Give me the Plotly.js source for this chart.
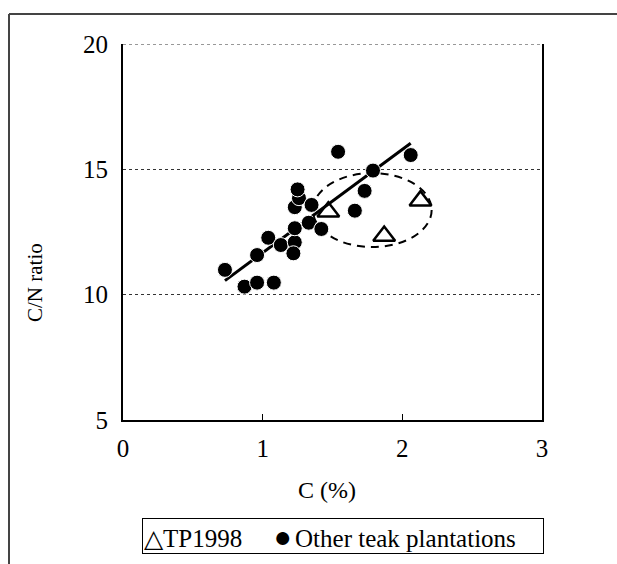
<!DOCTYPE html>
<html>
<head>
<meta charset="utf-8">
<script src="https://cdn.plot.ly/plotly-3.0.1.min.js"></script>
<style>html,body{margin:0;padding:0;background:#fff;}#chart{width:617px;height:564px;}</style>
</head>
<body>
<div id="chart"></div>
<script>
// ---- data ----
const tpC  = [1.47, 1.87, 2.13];
const tpCN = [13.31, 12.34, 13.75];

const otherC  = [0.73, 0.87, 0.96, 1.08, 0.96, 1.04, 1.13, 1.23, 1.22, 1.23, 1.33, 1.42,
                 1.23, 1.26, 1.25, 1.35, 1.54, 1.73, 1.66, 1.79, 2.06];
const otherCN = [10.99, 10.32, 10.48, 10.48, 11.58, 12.27, 11.98, 12.09, 11.65, 12.65, 12.87, 12.62,
                 13.49, 13.85, 14.20, 13.58, 15.70, 14.14, 13.35, 14.95, 15.57];

const fitC  = [0.73, 2.06];
const fitCN = [10.56, 16.04];

const ellipseC  = [1.36, 2.21];
const ellipseCN = [11.90, 14.85];

const xTicks = [0, 1, 2, 3];
const yTicks = [5, 10, 15, 20];

const seriesNames = ['TP1998', 'Other teak plantations'];
const seriesGlyphs = ['\u25B3', '\u25CF'];
const xTitle = 'C (%)';
const yTitle = 'C/N ratio';

// ---- layout geometry ----
const W = 617, H = 564;
const M = {l: 123, r: 75, t: 44, b: 144, autoexpand: false};
const pw = W - M.l - M.r, ph = H - M.t - M.b;
const px = x => (x - M.l) / pw;        // pixel -> paper
const py = y => (H - M.b - y) / ph;

const FONT = 'Liberation Serif';
const SP = '&nbsp;';

const traces = [
  {
    x: fitC, y: fitCN, type: 'scatter', mode: 'lines',
    line: {color: '#000', width: 3}, showlegend: false, hoverinfo: 'skip'
  },
  {
    x: otherC, y: otherCN, type: 'scatter', mode: 'markers', name: seriesNames[1], showlegend: false,
    marker: {symbol: 'circle', size: 15, color: '#000', line: {color: '#fff', width: 1}}
  },
  {
    x: tpC, y: tpCN, type: 'scatter', mode: 'markers', name: seriesNames[0], showlegend: false,
    marker: {symbol: 'triangle-up-open', size: 19, color: '#000', line: {color: '#000', width: 2.5}}
  }
];

const legendText = seriesGlyphs[0] + seriesNames[0] + SP.repeat(5) +
                   '<span style="font-size:30px">' + seriesGlyphs[1] + '</span>' +
                   '<span style="font-size:14px">' + SP + '</span>' + seriesNames[1];

const layout = {
  width: W, height: H,
  margin: M,
  paper_bgcolor: '#fff', plot_bgcolor: '#fff',
  font: {family: FONT, color: '#000', size: 22},
  showlegend: false,
  xaxis: {
    range: [0, 3], tickvals: xTicks, ticktext: xTicks.map(String),
    showgrid: false, zeroline: false,
    showline: true, linecolor: '#000', linewidth: 2, mirror: false,
    ticks: 'inside', ticklen: 6, tickwidth: 1, tickcolor: '#000',
    ticklabelstandoff: 5,
    tickfont: {family: FONT, size: 25, color: '#000'}
  },
  yaxis: {
    range: [5, 20], tickvals: yTicks, ticktext: yTicks.map(String),
    showgrid: true, gridcolor: '#333', griddash: 'dot', gridwidth: 1,
    zeroline: false,
    showline: true, linecolor: '#000', linewidth: 2, mirror: true,
    ticks: '', ticklabelstandoff: 8,
    tickfont: {family: FONT, size: 25, color: '#000'}
  },
  shapes: [
    // top gridline at the last y tick (Plotly omits it at the range edge)
    {type: 'line', xref: 'paper', yref: 'y', x0: 0, x1: 1,
     y0: yTicks[yTicks.length - 1], y1: yTicks[yTicks.length - 1],
     line: {color: '#333', width: 1, dash: 'dot'}},
    {type: 'circle', xref: 'x', yref: 'y',
     x0: ellipseC[0], x1: ellipseC[1], y0: ellipseCN[0], y1: ellipseCN[1],
     line: {color: '#000', width: 2, dash: '8px,6px'}},
    // outer frame (top and left edges)
    {type: 'line', xref: 'paper', yref: 'paper', x0: px(9), x1: px(W + 5), y0: py(14), y1: py(14),
     line: {color: '#444', width: 2}},
    {type: 'line', xref: 'paper', yref: 'paper', x0: px(9), x1: px(9), y0: py(14), y1: py(H + 5),
     line: {color: '#444', width: 2}}
  ],
  annotations: [
    {text: xTitle, xref: 'paper', yref: 'paper', x: px(327), y: py(490),
     xanchor: 'center', yanchor: 'middle', showarrow: false,
     font: {family: FONT, size: 24, color: '#000'}},
    {text: yTitle, xref: 'paper', yref: 'paper', x: px(35), y: py(283),
     xanchor: 'center', yanchor: 'middle', showarrow: false, textangle: -90,
     font: {family: FONT, size: 21, color: '#000'}},
    // legend box
    {text: legendText, xref: 'paper', yref: 'paper', x: px(142), y: py(518),
     xanchor: 'left', yanchor: 'top', showarrow: false, align: 'left',
     width: 398, height: 32, borderpad: 1,
     bordercolor: '#000', borderwidth: 1, bgcolor: '#fff',
     font: {family: FONT, size: 25, color: '#000'}}
  ]
};

Plotly.newPlot('chart', traces, layout, {displayModeBar: false, staticPlot: true});
</script>
</body>
</html>
